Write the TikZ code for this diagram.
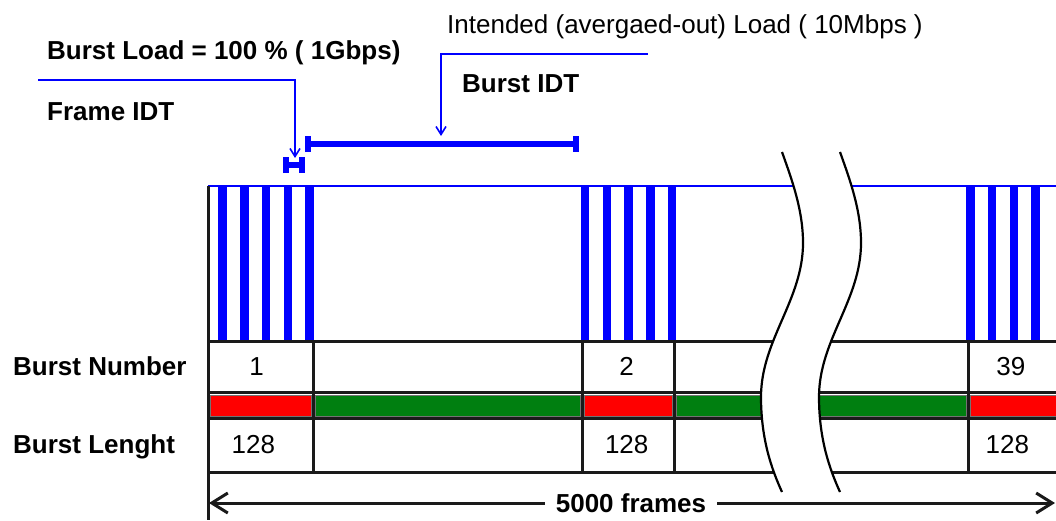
\documentclass[tikz,border=0pt]{standalone}
\usepackage{fontspec}
\setmainfont{Liberation Sans}
\usepackage{xcolor}
\definecolor{Pulse}{HTML}{0000FF}
\definecolor{Busy}{HTML}{FF0000}
\definecolor{Idle}{HTML}{007F10}
\definecolor{Ink}{HTML}{1A1A1A}
\usepackage{tikz}
\usetikzlibrary{arrows.meta}

\begin{document}
\begin{tikzpicture}[
  x=1pt,y=-1pt,
  every node/.style={inner sep=0pt},
  lbl/.style={font=\fontsize{26}{30}\selectfont\bfseries},
  num/.style={font=\fontsize{26}{30}\selectfont},
  note/.style={draw=Pulse,line width=1.6pt,-{Straight Barb[length=8pt,width=10pt]}},
  span/.style={draw=Pulse,line width=6pt,{Bar[width=16pt]}-{Bar[width=16pt]}},
  tabline/.style={draw=Ink,line width=3pt},
  stripe/.style={draw=Pulse,line width=8.5pt},
  cell/.style={draw=black!55,line width=.8pt},
  dim/.style={draw=Ink,line width=3pt,-{Straight Barb[length=16pt,width=20pt]}}
]
\useasboundingbox (0,0) rectangle (1056,520);

% labels above the pulse train
\node[lbl,anchor=base west] (load) at (47,59) {Burst Load = 100 \% ( 1Gbps)};
\node[lbl,anchor=base west] (fidt) at (47,120) {Frame IDT};
\node[num,anchor=base west] (avg) at (447,33) {Intended (avergaed-out) Load ( 10Mbps )};
\node[lbl,anchor=base west] (bidt) at (462,92) {Burst IDT};

% gap bars and their pointers
\coordinate (fidtL) at (283,165);
\coordinate (fidtR) at (305,165);
\coordinate (bidtL) at (305,144);
\coordinate (bidtR) at (579,144);
\draw[span] (fidtL) -- (fidtR);
\draw[span] (bidtL) -- (bidtR);
\coordinate (loadend) at (38,80);
\coordinate (fidttip) at (295,158);
\coordinate (avgend) at (648,54);
\coordinate (bidttip) at (441,136);
\draw[note] (loadend) -| (fidttip);
\draw[note] (avgend) -| (bidttip);

% pulse train: three bursts of frames
\coordinate (t0) at (208,186);
\coordinate (t1) at (1056,186);
\draw[Pulse,line width=2.5pt] (t0) -- (t1);
\foreach \bx/\n in {222.7/4,585/4,970.3/3}
  \foreach \i in {0,...,\n}
    \draw[stripe] ({\bx+21.75*\i},187) -- ({\bx+21.75*\i},340);

% colour bar: red = burst, green = idle
\foreach \xa/\xb/\c in {208/313/Busy,313/582/Idle,582/674/Busy,674/968/Idle,968/1062/Busy}
  \filldraw[fill=\c,cell] (\xa+2,395) rectangle (\xb-2,416);

% table grid
\foreach \y in {341,392,418,472}
  \draw[tabline] (208,\y) -- (1056,\y);
\foreach \x in {313,582,674,968}
  \draw[tabline] (\x,341) -- (\x,472);
\draw[tabline] (t0) -- (208,520);

\node[lbl,anchor=base west] (bnum) at (13,375) {Burst Number};
\node[lbl,anchor=base west] (blen) at (13,453) {Burst Lenght};
\node[num,anchor=base] (n1) at (256.5,375) {1};
\node[num,anchor=base] (n2) at (626.7,375) {2};
\node[num,anchor=base] (n3) at (1010.8,375) {39};
\node[num,anchor=base] (l1) at (253.3,453) {128};
\node[num,anchor=base] (l2) at (626.7,453) {128};
\node[num,anchor=base] (l3) at (1007.3,453) {128};

% time break
\fill[white] (782,152) .. controls (792,180) and (803,210) .. (803,243)
  .. controls (803,300) and (761,340) .. (761,397)
  .. controls (761,440) and (772,470) .. (782,492)
  -- (840,492) .. controls (830,470) and (819,440) .. (819,397)
  .. controls (819,340) and (861,300) .. (861,243)
  .. controls (861,210) and (850,180) .. (840,152) -- cycle;
\foreach \dx in {0,58}
  \draw[black,line width=2.2pt,xshift=\dx] (782,152) .. controls (792,180) and (803,210) .. (803,243)
    .. controls (803,300) and (761,340) .. (761,397)
    .. controls (761,440) and (772,470) .. (782,492);

% total length
\node[lbl,inner xsep=11pt,fill=white] (frames) at (631,503) {5000 frames};
\coordinate (dimL) at (209,503);
\coordinate (dimR) at (1055,503);
\draw[dim] (frames) -- (dimL);
\draw[dim] (frames) -- (dimR);
\end{tikzpicture}
\end{document}
